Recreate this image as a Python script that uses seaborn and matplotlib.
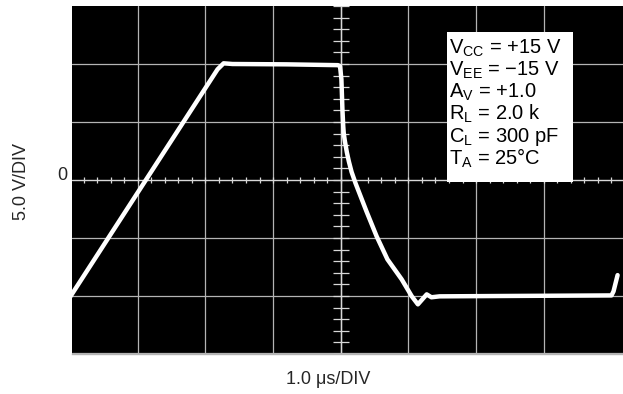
import numpy as np
import pandas as pd
import seaborn as sns
import matplotlib.pyplot as plt
from matplotlib.patches import Rectangle

# scope trace: time in us, output in volts
time_us = [-4.0, -1.82, -1.73, -1.60, -0.80, -0.04, -0.01, 0.01, 0.025, 0.037,
           0.045, 0.06, 0.09, 0.12, 0.16, 0.22, 0.30, 0.38, 0.53, 0.69,
           0.90, 1.05, 1.14, 1.27, 1.34, 1.46, 2.35, 4.00, 4.03, 4.09]
volts = [-10.1, 9.54, 10.06, 10.0, 9.97, 9.9, 9.8, 8.68, 6.09, 4.63,
         4.0, 3.4, 2.4, 1.6, 0.7, -0.3, -1.5, -2.7, -4.85, -6.84,
         -8.56, -10.03, -10.72, -9.86, -10.11, -10.03, -10.0, -9.95, -9.6, -8.2]

cond_labels = ["$\\mathregular{V_{CC}}$ = +15 V",
               "$\\mathregular{V_{EE}}$ = \u221215 V",
               "$\\mathregular{A_{V}}$ = +1.0",
               "$\\mathregular{R_{L}}$ = 2.0 k",
               "$\\mathregular{C_{L}}$ = 300 pF",
               "$\\mathregular{T_{A}}$ = 25\u00b0C"]

df = pd.DataFrame({'t': time_us, 'v': volts})

sns.set_theme(style="white")
plt.rcParams['font.family'] = ['Liberation Sans', 'DejaVu Sans']

fig = plt.figure(figsize=(6.23, 3.94), dpi=100)
ax = fig.add_axes([72/623, 40/394, 1 - 72/623, 348/394])
ax.set_facecolor('black')

ax.set_xlim(-3.97, 4.17)
ax.set_ylim(-15, 15)

# graticule
grid_c = '#b4b4b4'
for gx in range(-3, 4):
    ax.axvline(gx, color=grid_c, lw=0.9, zorder=1)
for gy in (-10, -5, 5, 10):
    ax.axhline(gy, color=grid_c, lw=0.9, zorder=1)
ax.axhline(0, color='#d8d8d8', lw=1.0, zorder=1)
ax.axvline(0, color='#d8d8d8', lw=1.0, zorder=1)
ax.axhline(-14.9, color=grid_c, lw=0.9, zorder=1)

# minor ticks on centre lines
mt = np.arange(-3.8, 4.2, 0.2)
ax.vlines(mt, -0.3, 0.3, color='#d8d8d8', lw=0.9, zorder=1)
mv = np.arange(-15, 15.1, 1.0)
ax.hlines(mv, -0.12, 0.12, color='#d8d8d8', lw=0.9, zorder=1)

sns.lineplot(data=df, x='t', y='v', sort=False, estimator=None,
             color='white', lw=3.2, ax=ax, zorder=3)

ax.set_xticks([])
ax.set_yticks([])
ax.set_xlabel('')
ax.set_ylabel('')
for s in ax.spines.values():
    s.set_visible(False)
ax.spines['bottom'].set_visible(True)
ax.spines['bottom'].set_color(grid_c)
ax.spines['bottom'].set_linewidth(1.0)

# condition box
ax.add_patch(Rectangle((1.566, -0.2), 1.864, 12.93, facecolor='white',
                       edgecolor='none', zorder=4))
for i, lab in enumerate(cond_labels):
    ax.text(1.60, 10.92 - i * 1.914, lab, fontsize=14.5, color='black',
            ha='left', va='baseline', zorder=5)

# outer labels
fig.text(62/623, 1 - 176/394, '0', fontsize=13, ha='center', va='center')
fig.text(22/623, 1 - 182/394, '5.0 V/DIV', fontsize=13, rotation=90,
         ha='center', va='center')
fig.text(328/623, 1 - 380/394, '1.0 \u03bcs/DIV', fontsize=13,
         ha='center', va='center')

fig.savefig('out.png', dpi=100)
